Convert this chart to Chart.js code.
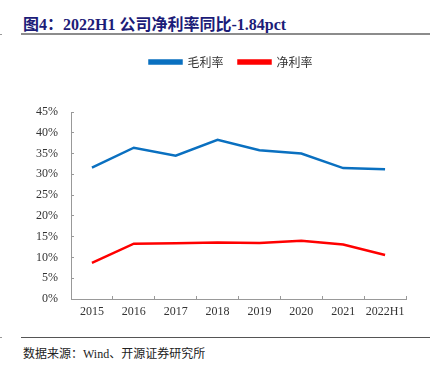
<!DOCTYPE html>
<html lang="zh-CN">
<head>
    <meta charset="UTF-8">
    <title>2022H1 公司净利率同比-1.84pct</title>
    <script src="https://cdn.jsdelivr.net/npm/chart.js"></script>
    <style>
        body {
            margin: 0;
            width: 430px;
            height: 372px;
            background: #fff;
            position: relative;
            overflow: hidden;
        }

        .title {
            position: absolute;
            left: 23px;
            top: 11px;
            font-family: "Liberation Serif", "Noto Sans CJK SC", serif;
            font-weight: bold;
            font-size: 16px;
            color: #1c1c78;
            white-space: nowrap;
        }

        .title-line {
            position: absolute;
            left: 21px;
            right: 0;
            top: 33px;
            height: 2px;
            background: #8c8c8c;
        }

        .edge-mark {
            position: absolute;
            left: 0;
            width: 2px;
            height: 1px;
            background: #999;
        }

        .chart-box {
            position: absolute;
            left: 0;
            top: 40px;
            width: 430px;
            height: 290px;
        }

        .foot-line {
            position: absolute;
            left: 21px;
            right: 0;
            top: 337px;
            height: 1px;
            background: #555;
        }

        .source {
            position: absolute;
            left: 23px;
            top: 344px;
            font-family: "Liberation Serif", "Noto Sans CJK SC", serif;
            font-size: 12px;
            color: #222;
            white-space: nowrap;
        }
    </style>
</head>
<body>
    <div class="title">图4：2022H1 公司净利率同比-1.84pct</div>
    <div class="title-line"></div>
    <div class="edge-mark" style="top: 34px;"></div>

    <div class="chart-box">
        <canvas id="marginChart" width="430" height="290"></canvas>
    </div>

    <div class="foot-line"></div>
    <div class="edge-mark" style="top: 337px;"></div>
    <div class="source">数据来源：Wind、开源证券研究所</div>

    <script>
        // 数据
        const years = ['2015', '2016', '2017', '2018', '2019', '2020', '2021', '2022H1'];
        const grossMargin = [31.6, 36.4, 34.5, 38.3, 35.8, 35.0, 31.5, 31.2];
        const netMargin = [8.7, 13.3, 13.4, 13.6, 13.5, 14.0, 13.1, 10.6];
        const yTicks = [0, 5, 10, 15, 20, 25, 30, 35, 40, 45];

        const tickFont = { family: '"Liberation Serif", "Times New Roman", serif', size: 12 };

        // 图例：下方多留空白，整体右移一点
        const legendTweak = {
            id: 'legendTweak',
            beforeUpdate(chart) {
                const legend = chart.legend;
                if (legend && !legend._patched) {
                    const fit = legend.fit;
                    legend.fit = function () {
                        fit.call(this);
                        this.height += 34;
                    };
                    const draw = legend.draw;
                    legend.draw = function () {
                        this.ctx.save();
                        this.ctx.translate(28, 0);
                        draw.call(this);
                        this.ctx.restore();
                    };
                    legend._patched = true;
                }
            },
        };

        const ctx = document.getElementById('marginChart').getContext('2d');

        new Chart(ctx, {
            type: 'line',
            data: {
                labels: years,
                datasets: [
                    {
                        label: '毛利率',
                        data: grossMargin,
                        borderColor: '#0a70c0',
                        backgroundColor: '#0a70c0',
                        borderWidth: 2.5,
                        pointRadius: 0,
                        tension: 0,
                    },
                    {
                        label: '净利率',
                        data: netMargin,
                        borderColor: '#ff0000',
                        backgroundColor: '#ff0000',
                        borderWidth: 2.5,
                        pointRadius: 0,
                        tension: 0,
                    },
                ],
            },
            plugins: [legendTweak],
            options: {
                responsive: false,
                animation: false,
                layout: {
                    padding: { top: 1, right: 24, left: 0, bottom: 0 },
                },
                plugins: {
                    legend: {
                        display: true,
                        position: 'top',
                        labels: {
                            boxWidth: 32,
                            boxHeight: 3,
                            padding: 15,
                            color: '#333',
                            font: { family: '"Noto Sans CJK SC", sans-serif', size: 12 },
                        },
                    },
                    tooltip: { enabled: false },
                },
                scales: {
                    x: {
                        offset: true,
                        grid: {
                            display: true,
                            drawOnChartArea: false,
                            offset: true,
                            tickLength: -3,
                            color: '#999',
                        },
                        border: { color: '#999', width: 1 },
                        ticks: {
                            color: '#333',
                            font: tickFont,
                            padding: 9,
                            maxRotation: 0,
                            autoSkip: false,
                        },
                        afterFit: (scale) => { scale.height = 31; },
                    },
                    y: {
                        min: 0,
                        max: 45,
                        afterBuildTicks: (scale) => {
                            scale.ticks = yTicks.map(v => ({ value: v }));
                        },
                        grid: {
                            display: true,
                            drawOnChartArea: false,
                            tickLength: -3,
                            color: '#999',
                        },
                        border: { color: '#999', width: 1 },
                        ticks: {
                            color: '#333',
                            font: tickFont,
                            padding: 16,
                            callback: (v) => v + '%',
                        },
                        afterFit: (scale) => { scale.width = 71; },
                    },
                },
            },
        });
    </script>
</body>
</html>
